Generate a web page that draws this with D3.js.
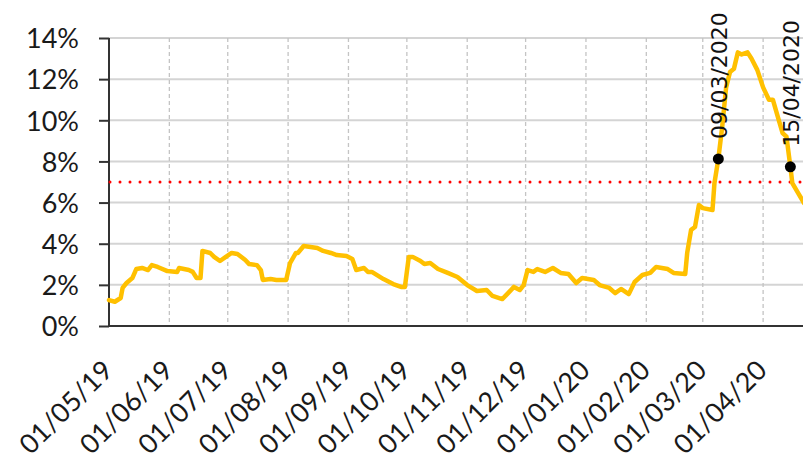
<!DOCTYPE html>
<html>
<head>
<meta charset="utf-8">
<script src="https://cdn.jsdelivr.net/npm/d3@7/dist/d3.min.js"></script>
<style>
  html, body { margin: 0; padding: 0; background: #fff; }
  svg { display: block; }
</style>
</head>
<body>
<svg id="chart" width="803" height="458"></svg>
<script>
// ---- data ----
const dates = [
  "2019-05-01","2019-05-04","2019-05-07","2019-05-08","2019-05-10","2019-05-13","2019-05-15","2019-05-18",
  "2019-05-21","2019-05-23","2019-05-26","2019-05-31","2019-06-05","2019-06-06","2019-06-11","2019-06-13",
  "2019-06-15","2019-06-17","2019-06-18","2019-06-22","2019-06-24","2019-06-27","2019-06-30","2019-07-03",
  "2019-07-06","2019-07-10","2019-07-12","2019-07-16","2019-07-18","2019-07-19","2019-07-23","2019-07-26",
  "2019-07-31","2019-08-02","2019-08-05","2019-08-06","2019-08-09","2019-08-16","2019-08-19","2019-08-23",
  "2019-08-26","2019-08-31","2019-09-03","2019-09-05","2019-09-09","2019-09-11","2019-09-13","2019-09-19",
  "2019-09-24","2019-09-28","2019-09-30","2019-10-02","2019-10-04","2019-10-08","2019-10-10","2019-10-13",
  "2019-10-17","2019-10-22","2019-10-27","2019-11-01","2019-11-06","2019-11-11","2019-11-14","2019-11-19",
  "2019-11-22","2019-11-25","2019-11-28","2019-11-30","2019-12-02","2019-12-05","2019-12-07","2019-12-11",
  "2019-12-15","2019-12-19","2019-12-23","2019-12-27","2019-12-30","2020-01-05","2020-01-08","2020-01-13",
  "2020-01-16","2020-01-19","2020-01-23","2020-01-26","2020-01-30","2020-02-03","2020-02-06","2020-02-12",
  "2020-02-15","2020-02-21","2020-02-22","2020-02-24","2020-02-26","2020-02-28","2020-03-01","2020-03-06",
  "2020-03-07","2020-03-09","2020-03-11","2020-03-13","2020-03-15","2020-03-17","2020-03-19","2020-03-21",
  "2020-03-24","2020-03-26","2020-03-29","2020-04-01","2020-04-04","2020-04-06","2020-04-08","2020-04-11",
  "2020-04-13","2020-04-15","2020-04-16","2020-04-19","2020-04-22"
];
const values = [
  1.26,1.18,1.36,1.85,2.09,2.33,2.77,2.82,
  2.72,2.96,2.87,2.67,2.63,2.82,2.72,2.63,
  2.33,2.33,3.65,3.55,3.36,3.16,3.36,3.55,
  3.50,3.21,3.01,2.96,2.72,2.24,2.28,2.24,
  2.24,3.06,3.55,3.55,3.89,3.79,3.65,3.55,
  3.45,3.40,3.26,2.72,2.82,2.63,2.63,2.28,
  2.04,1.90,1.90,3.36,3.36,3.16,3.01,3.06,
  2.77,2.58,2.38,1.99,1.70,1.75,1.46,1.31,
  1.60,1.90,1.75,1.99,2.72,2.63,2.77,2.63,
  2.82,2.58,2.53,2.09,2.33,2.24,1.99,1.85,
  1.60,1.80,1.55,2.14,2.48,2.58,2.87,2.77,
  2.58,2.53,3.55,4.67,4.81,5.88,5.73,5.64,
  6.95,8.12,9.70,11.60,12.35,12.50,13.30,13.20,
  13.30,13.00,12.45,11.60,11.00,11.00,10.35,9.38,
  9.20,7.74,6.95,6.46,5.98
];
const threshold = 7;
const annotDates = ["2020-03-09","2020-04-15"];
const annotValues = [8.12, 7.74];
const annotLabels = ["09/03/2020","15/04/2020"];
const yTicks = [0,2,4,6,8,10,12,14];
const xTickDates = ["2019-05-01","2019-06-01","2019-07-01","2019-08-01","2019-09-01","2019-10-01",
  "2019-11-01","2019-12-01","2020-01-01","2020-02-01","2020-03-01","2020-04-01"];
const xDomain = ["2019-05-01","2020-04-22"];

// ---- chart ----
const parse = d3.utcParse("%Y-%m-%d");
const fmt = d3.utcFormat("%d/%m/%y");
const svg = d3.select("#chart");
const mLeft = 109, mRight = 804, mTop = 38, mBottom = 326;

const x = d3.scaleUtc().domain(xDomain.map(parse)).range([mLeft, mRight]);
const y = d3.scaleLinear().domain([0, 14]).range([mBottom, mTop]);

// horizontal gridlines
svg.append("g").selectAll("line").data(yTicks.filter(v => v > 0)).join("line")
  .attr("x1", mLeft).attr("x2", 803)
  .attr("y1", d => y(d)).attr("y2", d => y(d))
  .attr("stroke", "#d4d4d4").attr("stroke-width", 2);

// vertical dashed gridlines
svg.append("g").selectAll("line").data(xTickDates.slice(1).map(parse)).join("line")
  .attr("x1", d => x(d)).attr("x2", d => x(d))
  .attr("y1", mTop).attr("y2", mBottom)
  .attr("stroke", "#c4c4c4").attr("stroke-width", 1.3)
  .attr("stroke-dasharray", "4,3");

// y axis
const yAxis = svg.append("g").attr("transform", `translate(${mLeft},0)`)
  .call(d3.axisLeft(y).tickValues(yTicks).tickFormat(d => d + "%").tickSize(10).tickPadding(20));
yAxis.select(".domain").attr("stroke", "#333").attr("stroke-width", 2).attr("d", `M0,${mTop}V${mBottom}`);
yAxis.selectAll(".tick line").attr("stroke", "#333").attr("stroke-width", 2);
yAxis.selectAll(".tick text")
  .attr("font-family", "Lato, 'Open Sans', sans-serif").attr("font-size", 27)
  .attr("fill", "#1a1a1a").attr("dy", "0.36em");

// x axis
const xAxis = svg.append("g").attr("transform", `translate(0,${mBottom})`)
  .call(d3.axisBottom(x).tickValues(xTickDates.map(parse)).tickFormat(fmt).tickSize(0));
xAxis.select(".domain").attr("stroke", "#333").attr("stroke-width", 2).attr("d", `M${mLeft},0H803`);
xAxis.selectAll(".tick text")
  .attr("font-family", "Lato, 'Open Sans', sans-serif").attr("font-size", 27)
  .attr("fill", "#1a1a1a")
  .attr("text-anchor", "end")
  .attr("y", 0).attr("dy", 0)
  .attr("transform", "translate(5,46) rotate(-45)");

// threshold dotted line
svg.append("line")
  .attr("x1", mLeft + 1).attr("x2", 803)
  .attr("y1", y(threshold)).attr("y2", y(threshold))
  .attr("stroke", "#ff0000").attr("stroke-width", 3)
  .attr("stroke-linecap", "round").attr("stroke-dasharray", "0,10");

// series line
const series = dates.map((d, i) => ({ date: parse(d), value: values[i] }));
svg.append("path").datum(series)
  .attr("fill", "none").attr("stroke", "#ffc000").attr("stroke-width", 4.5)
  .attr("stroke-linejoin", "round").attr("stroke-linecap", "round")
  .attr("d", d3.line().x(d => x(d.date)).y(d => y(d.value)));

// annotations
const ann = annotDates.map((d, i) => ({ date: parse(d), value: annotValues[i], label: annotLabels[i] }));
svg.append("g").selectAll("circle").data(ann).join("circle")
  .attr("cx", d => x(d.date)).attr("cy", d => y(d.value)).attr("r", 5.5).attr("fill", "#000");
svg.append("g").selectAll("text").data(ann).join("text")
  .attr("transform", d => `translate(${x(d.date) + 9},${y(d.value) - 20}) rotate(-90)`)
  .attr("font-family", "'DejaVu Sans', sans-serif").attr("font-size", 22)
  .attr("fill", "#111")
  .text(d => d.label);
</script>
</body>
</html>
